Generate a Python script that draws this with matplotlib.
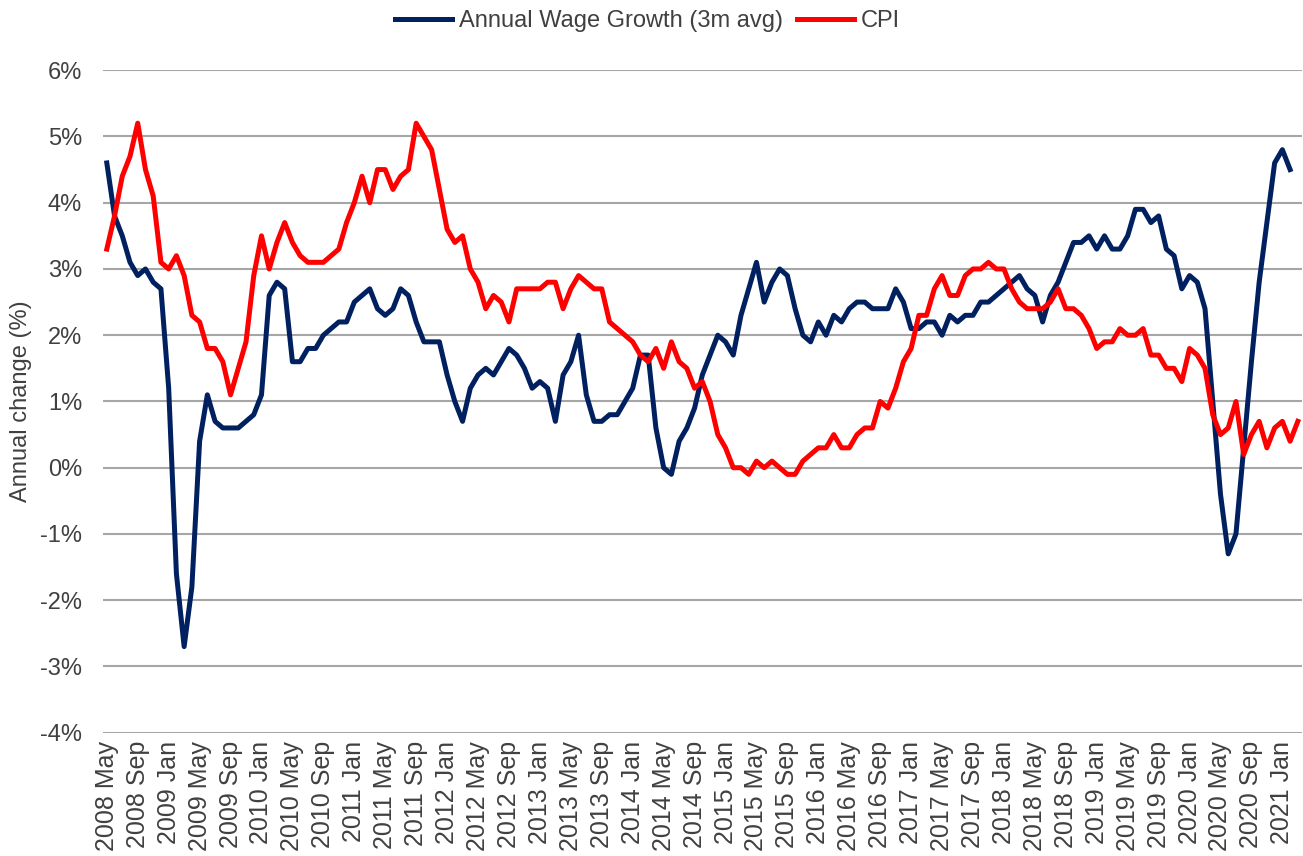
# UK wage growth vs CPI inflation, monthly
import numpy as np
import matplotlib.pyplot as plt

plt.rcParams['font.family'] = ['Liberation Sans', 'DejaVu Sans']

# months from 2008 May to 2021 Mar
years = list(range(2008, 2022))
month_names = ['Jan', 'Feb', 'Mar', 'Apr', 'May', 'Jun', 'Jul', 'Aug', 'Sep', 'Oct', 'Nov', 'Dec']
months = []
for y in years:
    for m in month_names:
        months.append(f'{y} {m}')
months = months[4:4 + 155]

# annual wage growth, 3 month average (%), to 2021 Feb
wage_growth = [
    4.6, 3.8, 3.5, 3.1, 2.9, 3.0, 2.8, 2.7,
    1.2, -1.6, -2.7, -1.8, 0.4, 1.1, 0.7, 0.6, 0.6, 0.6, 0.7, 0.8,
    1.1, 2.6, 2.8, 2.7, 1.6, 1.6, 1.8, 1.8, 2.0, 2.1, 2.2, 2.2,
    2.5, 2.6, 2.7, 2.4, 2.3, 2.4, 2.7, 2.6, 2.2, 1.9, 1.9, 1.9,
    1.4, 1.0, 0.7, 1.2, 1.4, 1.5, 1.4, 1.6, 1.8, 1.7, 1.5, 1.2,
    1.3, 1.2, 0.7, 1.4, 1.6, 2.0, 1.1, 0.7, 0.7, 0.8, 0.8, 1.0,
    1.2, 1.7, 1.7, 0.6, 0.0, -0.1, 0.4, 0.6, 0.9, 1.4, 1.7, 2.0,
    1.9, 1.7, 2.3, 2.7, 3.1, 2.5, 2.8, 3.0, 2.9, 2.4, 2.0, 1.9,
    2.2, 2.0, 2.3, 2.2, 2.4, 2.5, 2.5, 2.4, 2.4, 2.4, 2.7, 2.5,
    2.1, 2.1, 2.2, 2.2, 2.0, 2.3, 2.2, 2.3, 2.3, 2.5, 2.5, 2.6,
    2.7, 2.8, 2.9, 2.7, 2.6, 2.2, 2.6, 2.8, 3.1, 3.4, 3.4, 3.5,
    3.3, 3.5, 3.3, 3.3, 3.5, 3.9, 3.9, 3.7, 3.8, 3.3, 3.2, 2.7,
    2.9, 2.8, 2.4, 1.0, -0.4, -1.3, -1.0, 0.3, 1.6, 2.8, 3.7, 4.6,
    4.8, 4.5,
]

# CPI annual rate (%), to 2021 Mar
cpi = [
    3.3, 3.8, 4.4, 4.7, 5.2, 4.5, 4.1, 3.1,
    3.0, 3.2, 2.9, 2.3, 2.2, 1.8, 1.8, 1.6, 1.1, 1.5, 1.9, 2.9,
    3.5, 3.0, 3.4, 3.7, 3.4, 3.2, 3.1, 3.1, 3.1, 3.2, 3.3, 3.7,
    4.0, 4.4, 4.0, 4.5, 4.5, 4.2, 4.4, 4.5, 5.2, 5.0, 4.8, 4.2,
    3.6, 3.4, 3.5, 3.0, 2.8, 2.4, 2.6, 2.5, 2.2, 2.7, 2.7, 2.7,
    2.7, 2.8, 2.8, 2.4, 2.7, 2.9, 2.8, 2.7, 2.7, 2.2, 2.1, 2.0,
    1.9, 1.7, 1.6, 1.8, 1.5, 1.9, 1.6, 1.5, 1.2, 1.3, 1.0, 0.5,
    0.3, 0.0, 0.0, -0.1, 0.1, 0.0, 0.1, 0.0, -0.1, -0.1, 0.1, 0.2,
    0.3, 0.3, 0.5, 0.3, 0.3, 0.5, 0.6, 0.6, 1.0, 0.9, 1.2, 1.6,
    1.8, 2.3, 2.3, 2.7, 2.9, 2.6, 2.6, 2.9, 3.0, 3.0, 3.1, 3.0,
    3.0, 2.7, 2.5, 2.4, 2.4, 2.4, 2.5, 2.7, 2.4, 2.4, 2.3, 2.1,
    1.8, 1.9, 1.9, 2.1, 2.0, 2.0, 2.1, 1.7, 1.7, 1.5, 1.5, 1.3,
    1.8, 1.7, 1.5, 0.8, 0.5, 0.6, 1.0, 0.2, 0.5, 0.7, 0.3, 0.6,
    0.7, 0.4, 0.7,
]

x = np.arange(len(months))

fig = plt.figure(figsize=(13.03, 8.56), dpi=100)
ax = fig.add_axes([0.079, 0.144, 0.920, 0.774])

ax.plot(x[:len(wage_growth)], wage_growth, color='#002060', lw=3.6,
        label='Annual Wage Growth (3m avg)', solid_joinstyle='round')
ax.plot(x[:len(cpi)], cpi, color='#FF0000', lw=3.6, label='CPI',
        solid_joinstyle='round')

ax.set_xlim(-0.5, len(months) - 0.5)
ax.set_ylim(-4, 6)
ax.set_yticks(range(-4, 7))
ax.set_yticklabels([f'{v}%' for v in range(-4, 7)], fontsize=17, color='#404040')
ax.set_xticks(x[::4])
ax.set_xticklabels(months[::4], rotation=90, fontsize=18, color='#404040')
ax.tick_params(axis='y', length=0, pad=15)
ax.tick_params(axis='x', length=0, pad=6)

ax.grid(axis='y', color='#A6A6A6', lw=1.5)
ax.set_axisbelow(True)
for s in ax.spines.values():
    s.set_visible(False)

ax.set_ylabel('Annual change (%)', fontsize=17, color='#404040', labelpad=6)

fig.legend(loc='upper center', bbox_to_anchor=(0.497, 1.013), ncol=2, frameon=False,
           fontsize=17, handlelength=2.4, handletextpad=0.3, columnspacing=0.6,
           labelcolor='#404040')

fig.savefig('out.png', dpi=100)
